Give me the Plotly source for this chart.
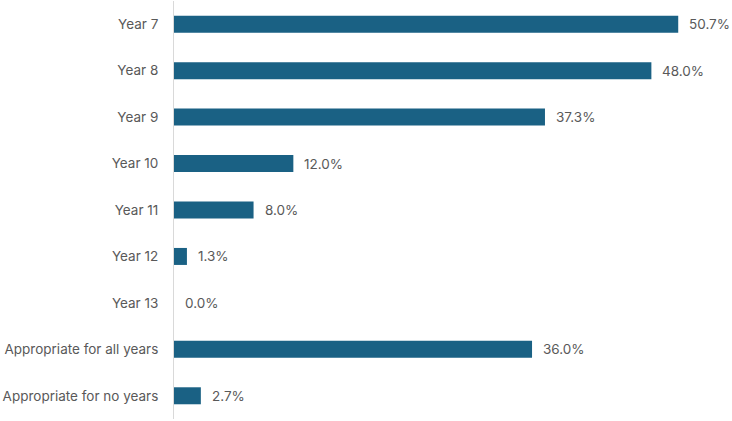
import plotly.graph_objects as go

categories = ["Year 7", "Year 8", "Year 9", "Year 10", "Year 11", "Year 12", "Year 13",
              "Appropriate for all years", "Appropriate for no years"]
values = [50.7, 48.0, 37.3, 12.0, 8.0, 1.3, 0.0, 36.0, 2.7]
labels = [f"{v:.1f}%" for v in values]

bar_color = "#1a6184"
text_color = "#595959"
font_family = "Inter, Liberation Sans, Arial, sans-serif"
font_size = 13.5

fig = go.Figure()
fig.add_trace(go.Bar(
    y=categories, x=values, orientation="h",
    marker=dict(color=bar_color, line=dict(width=0)),
    width=0.366,
    hoverinfo="skip",
))

for c, v, t in zip(categories, values, labels):
    fig.add_annotation(x=v, y=c, text=t, showarrow=False, xanchor="left",
                       xshift=9, font=dict(size=font_size, color=text_color, family=font_family))

fig.update_layout(
    width=732, height=421,
    margin=dict(l=174, r=11, t=1, b=2),
    paper_bgcolor="white", plot_bgcolor="white",
    showlegend=False,
    font=dict(family=font_family, size=font_size, color=text_color),
    xaxis=dict(range=[0, 55], showgrid=False, zeroline=False, showticklabels=False,
               showline=False, fixedrange=True),
    yaxis=dict(categoryorder="array", categoryarray=categories, autorange="reversed",
               showgrid=False, zeroline=False, showline=True, linecolor="#d9d9d9",
               linewidth=1, ticks="", ticklabelstandoff=12,
               tickfont=dict(size=font_size, color=text_color, family=font_family)),
)

fig.write_html("out.html")
